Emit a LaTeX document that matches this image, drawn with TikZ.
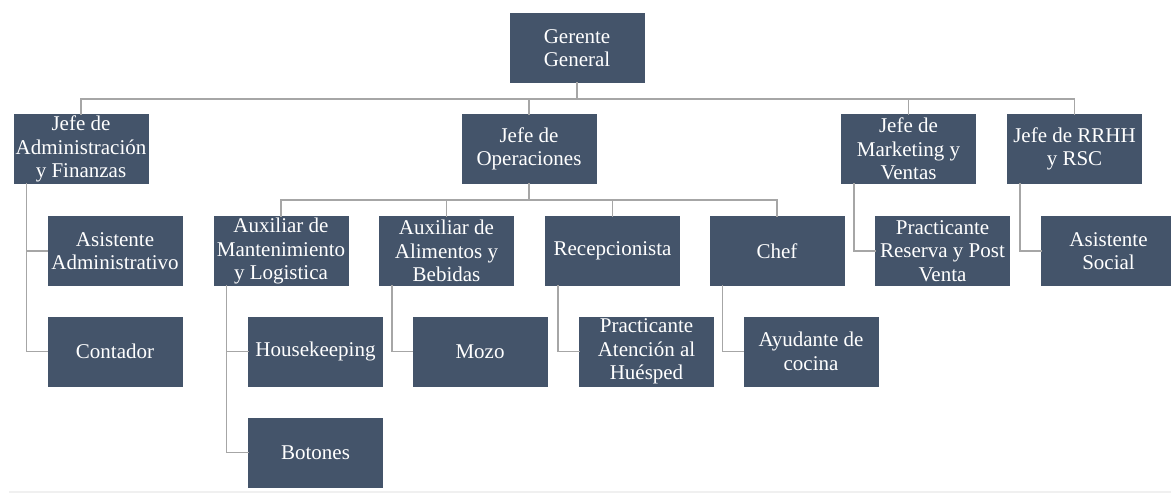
\documentclass[tikz,border=0pt]{standalone}
\usepackage{fontspec}
\setmainfont{Liberation Serif}
\definecolor{cajaazul}{HTML}{44546A}
\definecolor{lineagris}{HTML}{A6A6A6}
\tikzset{
  caja/.style={fill=cajaazul,text=white,minimum width=135pt,minimum height=70pt,
    inner sep=0pt,align=center,font=\fontsize{21}{23.5}\selectfont},
  enlace/.style={draw=lineagris,line width=1.6pt}
}
\begin{document}
\begin{tikzpicture}[x=1pt,y=-1pt,line cap=rect,line join=miter]
\useasboundingbox (0,0) rectangle (1171,496);

% 顶层
\node[caja] (ger) at (577,48) {Gerente\\General};

% 第一层：各部门负责人
\node[caja] (adm)  at (81,149)    {Jefe de\\Administración\\y Finanzas};
\node[caja] (ops)  at (529,149)   {Jefe de\\Operaciones};
\node[caja] (mkt)  at (908.5,149) {Jefe de\\Marketing y\\Ventas};
\node[caja] (rrhh) at (1074.5,149){Jefe de RRHH\\y RSC};

% 第二层
\node[caja] (asis)  at (115,251)    {Asistente\\Administrativo};
\node[caja] (mant)  at (281,251)    {Auxiliar de\\Mantenimiento\\y Logistica};
\node[caja] (alim)  at (446.5,251)  {Auxiliar de\\Alimentos y\\Bebidas};
\node[caja] (recep) at (612.5,251)  {Recepcionista};
\node[caja] (chef)  at (777,251)    {Chef};
\node[caja] (prac)  at (942.5,251)  {Practicante\\Reserva y Post\\Venta};
\node[caja] (soc)   at (1108.5,251) {Asistente\\Social};

% 第三、四层
\node[caja] (cont)  at (115,351.5)   {Contador};
\node[caja] (house) at (315.5,351.5) {Housekeeping};
\node[caja] (mozo)  at (480,351.5)   {Mozo};
\node[caja] (aten)  at (646.5,351.5) {Practicante\\Atención al\\Huésped};
\node[caja] (ayud)  at (811,351.5)   {Ayudante de\\cocina};
\node[caja] (boton) at (315.5,452.5) {Botones};

% 总线
\coordinate (bus)   at (578,99);
\coordinate (opbus) at (529,200);

% 连线：总经理 -> 部门
\draw[enlace] (ger.south) -- (ger.south |- bus);
\draw[enlace] (adm.north) |- (bus) -| (rrhh.north);
\foreach \n in {ops,mkt}
  \draw[enlace] (\n.north) -- (\n.north |- bus);

% 连线：运营 -> 下属
\draw[enlace] (ops.south) -- (opbus);
\draw[enlace] (mant.north) |- (opbus) -| (chef.north);
\foreach \n in {alim,recep}
  \draw[enlace] (\n.north) -- (\n.north |- opbus);

% 侧边连线
\foreach \p/\c in {adm/asis,adm/cont,mant/house,mant/boton,alim/mozo,
                   recep/aten,chef/ayud,mkt/prac,rrhh/soc}
  \draw[enlace] ([xshift=13pt]\p.south west) |- (\c.west);

% 底部浅线
\draw[gray!12,line width=2pt] (10,492) -- (1171,492);

\end{tikzpicture}
\end{document}
